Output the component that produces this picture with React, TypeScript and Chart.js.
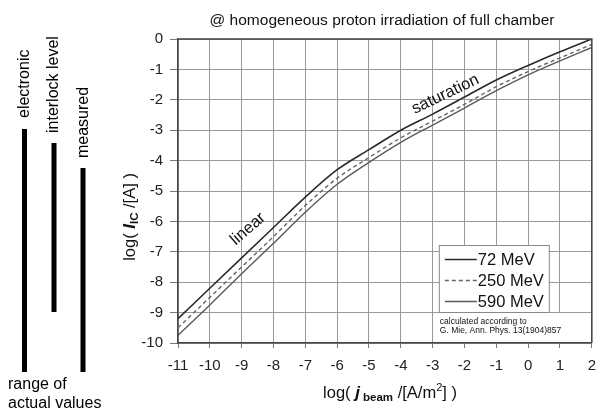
import React, { useEffect, useRef } from "react";
import { Chart, registerables } from "chart.js";

Chart.register(...registerables);

// ---- data ----
const logJ = [-11, -10, -9, -8, -7, -6, -5, -4, -3, -2, -1, 0, 1, 2];
const mev72 = [-9.2, -8.2, -7.2, -6.2, -5.2, -4.3, -3.64, -3.0, -2.47, -1.91, -1.35, -0.87, -0.42, 0];
const mev250 = [-9.5, -8.5, -7.5, -6.5, -5.48, -4.58, -3.9, -3.25, -2.7, -2.15, -1.57, -1.07, -0.62, -0.18];
const mev590 = [-9.75, -8.75, -7.72, -6.72, -5.7, -4.78, -4.06, -3.4, -2.83, -2.27, -1.7, -1.18, -0.72, -0.28];
const seriesLabels = ["72 MeV", "250 MeV", "590 MeV"];
const xMin = -11;
const xMax = 2;
const yMin = -10;
const yMax = 0;
const titleText = "@ homogeneous proton irradiation of full chamber";
const noteLines = ["calculated according to", "G. Mie, Ann. Phys. 13(1904)857"];
const rangeLabels = ["electronic", "interlock level", "measured"];
const rangeCaption = ["range of", "actual values"];

const FONT = '"Liberation Sans", Arial, Helvetica, sans-serif';
const f = (size: number, style = "") => `${style} ${size}px ${FONT}`.trim();

const lineStyles = [
  { color: "#2a2a2a", width: 1.6, dash: [] as number[] },
  { color: "#666666", width: 1.4, dash: [4, 3] },
  { color: "#5a5a5a", width: 1.4, dash: [] as number[] },
];

type Part = { t: string; font: string; dy?: number };

function drawRich(ctx: CanvasRenderingContext2D, parts: Part[], cx: number, y: number) {
  let total = 0;
  const widths = parts.map((p) => {
    ctx.font = p.font;
    const w = ctx.measureText(p.t).width;
    total += w;
    return w;
  });
  let x = cx - total / 2;
  ctx.textAlign = "left";
  ctx.textBaseline = "alphabetic";
  parts.forEach((p, i) => {
    ctx.font = p.font;
    ctx.fillText(p.t, x, y + (p.dy || 0));
    x += widths[i];
  });
}

const annotate = {
  id: "annotate",
  beforeDatasetsDraw(chart: any) {
    const { ctx, chartArea: ca } = chart;
    ctx.save();
    ctx.fillStyle = "#ffffff";
    ctx.fillRect(ca.right - 155, ca.bottom - 30, 154, 29);
    ctx.fillRect(ca.right - 153, ca.bottom - 98, 110, 67);
    ctx.strokeStyle = "#888";
    ctx.lineWidth = 1;
    ctx.strokeRect(ca.right - 152.5, ca.bottom - 97.5, 110, 67);
    ctx.restore();
  },
  afterDatasetsDraw(chart: any) {
    const { ctx, chartArea: ca, scales } = chart;
    const xs = scales.x;
    const ys = scales.y;
    ctx.save();
    ctx.strokeStyle = "#444";
    ctx.lineWidth = 1.5;
    ctx.beginPath();
    ctx.moveTo(ca.left, ca.top);
    ctx.lineTo(ca.right, ca.top);
    ctx.lineTo(ca.right, ca.bottom);
    ctx.stroke();

    ctx.fillStyle = "#111";
    const lx0 = ca.right - 147;
    const lx1 = ca.right - 115;
    seriesLabels.forEach((lab, i) => {
      const base = ca.bottom - 78 + i * 21;
      const st = lineStyles[i];
      ctx.strokeStyle = st.color;
      ctx.lineWidth = st.width;
      ctx.setLineDash(st.dash);
      ctx.beginPath();
      ctx.moveTo(lx0, base - 5.5);
      ctx.lineTo(lx1, base - 5.5);
      ctx.stroke();
      ctx.setLineDash([]);
      ctx.font = f(16.5);
      ctx.textAlign = "left";
      ctx.textBaseline = "alphabetic";
      ctx.fillText(lab, lx1 + 1, base);
    });
    ctx.font = f(8.5);
    noteLines.forEach((t, i) => ctx.fillText(t, ca.right - 152, ca.bottom - 19 + i * 9));

    ctx.font = f(16.5);
    ctx.textAlign = "center";
    ctx.textBaseline = "middle";
    ctx.save();
    ctx.translate(xs.getPixelForValue(-8.8), ys.getPixelForValue(-6.25));
    ctx.rotate((-41 * Math.PI) / 180);
    ctx.fillText("linear", 0, 0);
    ctx.restore();
    ctx.save();
    ctx.translate(xs.getPixelForValue(-2.6), ys.getPixelForValue(-1.82));
    ctx.rotate((-25.5 * Math.PI) / 180);
    ctx.fillText("saturation", 0, 0);
    ctx.restore();

    ctx.fillStyle = "#111";
    ctx.font = f(15.5);
    ctx.textAlign = "center";
    ctx.textBaseline = "alphabetic";
    ctx.fillText(titleText, 382, 25);

    drawRich(
      ctx,
      [
        { t: "log( ", font: f(16.5) },
        { t: "j", font: f(17, "italic bold") },
        { t: " beam", font: f(11.5, "bold"), dy: 3 },
        { t: " /[A/m", font: f(16.5) },
        { t: "2", font: f(11), dy: -7 },
        { t: "] )", font: f(16.5) },
      ],
      390,
      398
    );

    ctx.save();
    ctx.translate(135, 217);
    ctx.rotate(-Math.PI / 2);
    drawRich(
      ctx,
      [
        { t: "log( ", font: f(16.5) },
        { t: "I", font: f(17, "italic bold") },
        { t: "IC", font: f(11.5, "bold"), dy: 3 },
        { t: " /[A] )", font: f(16.5) },
      ],
      0,
      0
    );
    ctx.restore();

    ctx.fillStyle = "#000";
    const bars = [
      { x: 22, top: 129, bottom: 372, tx: 29, ty: 118 },
      { x: 51.5, top: 143, bottom: 312, tx: 57.5, ty: 133 },
      { x: 80.5, top: 168, bottom: 372, tx: 87.5, ty: 158 },
    ];
    bars.forEach((b, i) => {
      ctx.fillRect(b.x, b.top, 5, b.bottom - b.top);
      ctx.save();
      ctx.translate(b.tx, b.ty);
      ctx.rotate(-Math.PI / 2);
      ctx.font = f(16);
      ctx.textAlign = "left";
      ctx.textBaseline = "alphabetic";
      ctx.fillText(rangeLabels[i], 0, 0);
      ctx.restore();
    });
    ctx.font = f(16);
    ctx.textAlign = "left";
    ctx.textBaseline = "alphabetic";
    ctx.fillText(rangeCaption[0], 8, 389);
    ctx.fillText(rangeCaption[1], 8, 408);

    ctx.restore();
  },
};

export default function App() {
  const ref = useRef<HTMLCanvasElement | null>(null);
  useEffect(() => {
    if (!ref.current) return;
    const series = [mev72, mev250, mev590];
    const chart = new Chart(ref.current, {
      type: "line",
      data: {
        datasets: series.map((arr, i) => ({
          label: seriesLabels[i],
          data: logJ.map((x, k) => ({ x, y: arr[k] })),
          borderColor: lineStyles[i].color,
          borderWidth: lineStyles[i].width,
          borderDash: lineStyles[i].dash,
          pointRadius: 0,
          fill: false,
          cubicInterpolationMode: "monotone",
        })),
      },
      options: {
        animation: false,
        responsive: false,
        devicePixelRatio: 1,
        layout: { padding: { top: 39, right: 3, left: 0, bottom: 0 } },
        plugins: {
          legend: { display: false },
          title: { display: false },
          tooltip: { enabled: false },
        },
        scales: {
          x: {
            type: "linear",
            min: xMin,
            max: xMax,
            ticks: {
              stepSize: 1,
              color: "#222",
              font: { family: FONT, size: 15 },
              padding: 9,
              maxRotation: 0,
              autoSkip: false,
            },
            grid: { color: "#999", lineWidth: 1, tickLength: 5, tickColor: "#777" },
            border: { color: "#444", width: 1.5 },
            afterFit: (s: any) => {
              s.height = 69;
            },
          },
          y: {
            type: "linear",
            min: yMin,
            max: yMax,
            ticks: {
              stepSize: 1,
              color: "#222",
              font: { family: FONT, size: 15 },
              padding: 7,
              autoSkip: false,
            },
            grid: { color: "#999", lineWidth: 1, tickLength: 8, tickColor: "#777" },
            border: { color: "#444", width: 1.5 },
            afterFit: (s: any) => {
              s.width = 178;
            },
          },
        },
      } as any,
      plugins: [annotate],
    });
    return () => chart.destroy();
  }, []);
  return (
    <div style={{ position: "absolute", left: 0, top: 0, width: 605, height: 412, background: "#fff" }}>
      <canvas ref={ref} width={605} height={412} style={{ display: "block" }} />
    </div>
  );
}
